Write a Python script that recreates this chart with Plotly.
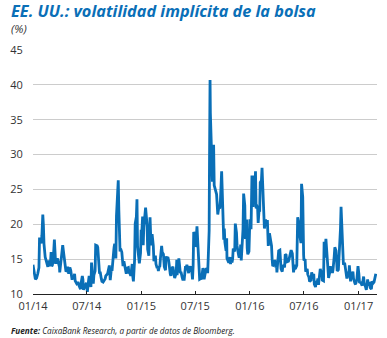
import numpy as np
import pandas as pd
import plotly.graph_objects as go

# VIX closes, roughly every other trading day, grouped by month
vix_2014 = [
    [14.2, 13.6, 12.9, 12.1, 12.3, 12.5, 12.9, 13.8, 18.1, 17.4, 17.3, 18.4],
    [21.4, 19.9, 17.2, 15.3, 15.0, 14.1, 13.9, 14.8, 14.2, 14.0],
    [16.0, 14.0, 14.1, 14.8, 16.2, 17.8, 14.5, 14.5, 15.1, 14.9, 14.4, 13.9],
    [13.1, 13.9, 14.9, 15.9, 17.0, 15.6, 14.0, 13.2, 13.3, 13.9, 13.4],
    [12.9, 13.8, 13.4, 12.2, 12.2, 12.4, 12.9, 11.9, 11.5, 11.6],
    [11.6, 11.3, 11.0, 10.7, 11.6, 12.6, 12.1, 10.6, 11.0, 11.3, 11.6],
    [11.1, 10.3, 11.9, 12.6, 11.8, 11.0, 14.5, 12.8, 11.5, 12.7, 13.3, 17.0],
    [17.0, 16.9, 16.7, 14.2, 12.9, 13.2, 12.2, 11.8, 11.7, 11.8, 12.0],
    [12.2, 12.6, 12.7, 12.9, 13.3, 14.1, 12.0, 13.7, 13.3, 14.9, 16.3],
    [16.7, 17.2, 15.1, 21.2, 24.6, 26.3, 22.0, 16.1, 16.5, 16.0, 15.0, 14.0],
    [14.7, 14.2, 13.7, 12.9, 13.7, 13.8, 13.1, 12.9, 12.6, 13.3],
    [14.3, 12.5, 11.8, 14.9, 20.1, 21.1, 23.6, 16.8, 15.3, 14.4, 15.9, 19.2],
]
vix_2015 = [
    [17.8, 21.1, 17.0, 19.6, 21.5, 22.4, 19.9, 16.4, 15.5, 20.4, 21.0],
    [17.3, 17.0, 18.6, 16.9, 14.7, 15.5, 14.3, 13.7, 13.9, 13.3],
    [13.9, 14.0, 15.1, 16.9, 16.0, 15.7, 13.9, 13.4, 15.4, 15.1, 15.3],
    [14.7, 14.7, 12.9, 12.6, 13.7, 13.9, 12.7, 12.3, 13.0, 14.9],
    [12.7, 14.3, 15.1, 13.0, 13.2, 12.4, 12.1, 12.1, 13.3, 13.8],
    [13.8, 14.2, 13.8, 13.0, 14.0, 13.2, 14.0, 12.1, 14.0, 18.9, 18.2],
    [16.8, 17.0, 19.7, 16.8, 13.4, 12.1, 12.2, 12.1, 13.7, 13.4, 12.1],
    [12.6, 13.0, 13.4, 13.7, 13.5, 13.0, 15.3, 19.1, 28.0, 40.7, 36.0, 30.3, 26.1, 26.1, 28.4],
    [31.4, 25.6, 24.9, 24.4, 24.3, 21.4, 22.3, 22.4, 23.5, 27.6, 24.5],
    [20.9, 17.8, 19.4, 17.4, 16.2, 18.0, 15.1, 14.8, 14.5, 15.3, 14.3, 15.1],
    [14.5, 15.0, 16.5, 16.1, 20.1, 18.8, 16.9, 15.6, 15.2, 16.1],
    [17.1, 14.8, 17.6, 19.3, 24.4, 22.7, 17.9, 20.7, 16.6, 15.7, 16.1, 18.2],
]
vix_2016 = [
    [20.7, 19.3, 25.0, 27.0, 22.5, 23.9, 27.0, 26.1, 27.6, 22.3, 22.5, 22.4, 20.2],
    [22.0, 21.8, 26.0, 26.3, 28.1, 24.1, 21.6, 19.4, 20.7, 19.8, 20.6],
    [17.7, 16.9, 18.7, 18.1, 16.9, 15.0, 14.0, 14.2, 14.9, 13.8, 14.0],
    [13.1, 15.4, 16.2, 16.3, 13.8, 13.6, 13.2, 14.0, 14.1, 13.8, 15.7],
    [15.6, 14.6, 14.6, 14.7, 15.0, 15.6, 16.3, 15.8, 13.9, 13.1, 14.2],
    [13.6, 13.7, 14.1, 17.0, 21.0, 20.1, 19.4, 18.5, 17.3, 25.8, 23.9, 16.6, 15.6],
    [14.8, 15.0, 13.2, 13.6, 12.8, 12.4, 11.8, 12.0, 13.1, 12.7],
    [12.4, 12.9, 11.4, 11.0, 11.7, 11.8, 12.2, 11.3, 12.4, 13.6, 12.9, 13.4],
    [12.0, 11.9, 17.5, 15.2, 17.9, 16.3, 15.5, 13.3, 12.3, 13.1, 14.0, 13.3],
    [13.6, 13.0, 13.5, 15.4, 16.7, 16.2, 14.4, 13.3, 13.5, 15.4, 17.1],
    [19.3, 22.5, 18.7, 14.4, 14.2, 14.5, 13.4, 12.4, 12.4, 13.0, 13.3],
    [14.1, 11.8, 12.6, 12.6, 13.2, 12.2, 11.5, 11.4, 12.0, 13.4, 14.0],
]
vix_2017 = [
    [12.9, 11.7, 11.6, 11.3, 11.2, 12.5, 11.5, 11.1, 10.6, 11.9],
    [11.9, 11.4, 11.5, 10.9, 10.7, 11.8, 11.6, 11.7, 12.1, 12.9],
]

y_ticks = [10, 15, 20, 25, 30, 35, 40, 45]
title_text = "EE. UU.: volatilidad implícita de la bolsa"
unit_text = "(%)"
source_bold = "Fuente:"
source_text = " CaixaBank Research, a partir de datos de Bloomberg."

# build dates: spread each month's values across its business days
dates, values = [], []
for year, months in [(2014, vix_2014), (2015, vix_2015), (2016, vix_2016), (2017, vix_2017)]:
    for m, vals in enumerate(months, start=1):
        start = pd.Timestamp(year=year, month=m, day=1)
        bdays = pd.bdate_range(start, start + pd.offsets.MonthEnd(0))
        idx = np.linspace(0, len(bdays) - 1, len(vals)).round().astype(int)
        dates.extend(bdays[idx])
        values.extend(vals)

BLUE = "#0a6fb7"
FONT = "Open Sans"

fig = go.Figure()
fig.add_trace(go.Scatter(x=dates, y=values, mode="lines",
                         line=dict(color=BLUE, width=2.8), hoverinfo="skip"))

L, R, T, B = 27, 10, 50, 44
W, H = 387, 338
pw, ph = W - L - R, H - T - B

def px(x):
    return (x - L) / pw

def py(y):
    return (H - B - y) / ph

fig.update_layout(
    width=W, height=H,
    margin=dict(l=L, r=R, t=T, b=B),
    paper_bgcolor="white", plot_bgcolor="white",
    showlegend=False,
    font=dict(family=FONT, size=11, color="#333333"),
    xaxis=dict(
        type="date",
        range=["2014-01-01", "2017-03-04"],
        tick0="2014-01-01", dtick="M6", tickformat="%m/%y",
        showgrid=False, showline=True, linecolor="#222222", linewidth=1.2,
        ticks="inside", ticklen=3, tickcolor="#222222", tickwidth=1,
        ticklabelstandoff=2,
        tickfont=dict(size=11, color="#333333"),
        zeroline=False,
    ),
    yaxis=dict(
        range=[10, 45], tickvals=y_ticks,
        showgrid=True, gridcolor="#cccccc", gridwidth=1,
        showline=False, zeroline=False,
        ticks="outside", ticklen=7, tickcolor="rgba(0,0,0,0)",
        tickfont=dict(size=11, color="#333333"),
    ),
    annotations=[
        dict(text="<b><i>" + title_text + "</i></b>", xref="paper", yref="paper",
             x=px(3), y=py(11), xanchor="left", yanchor="middle", showarrow=False,
             font=dict(family=FONT, size=16.3, color=BLUE)),
        dict(text="<i>" + unit_text + "</i>", xref="paper", yref="paper",
             x=px(3), y=py(29), xanchor="left", yanchor="middle", showarrow=False,
             font=dict(family=FONT, size=11.5, color="#333333")),
        dict(text="<b><i>" + source_bold + "</i></b><i>" + source_text + "</i>",
             xref="paper", yref="paper",
             x=px(3), y=py(330), xanchor="left", yanchor="middle", showarrow=False,
             font=dict(family=FONT, size=8.2, color="#222222")),
    ],
)

fig.write_html("out.html")
